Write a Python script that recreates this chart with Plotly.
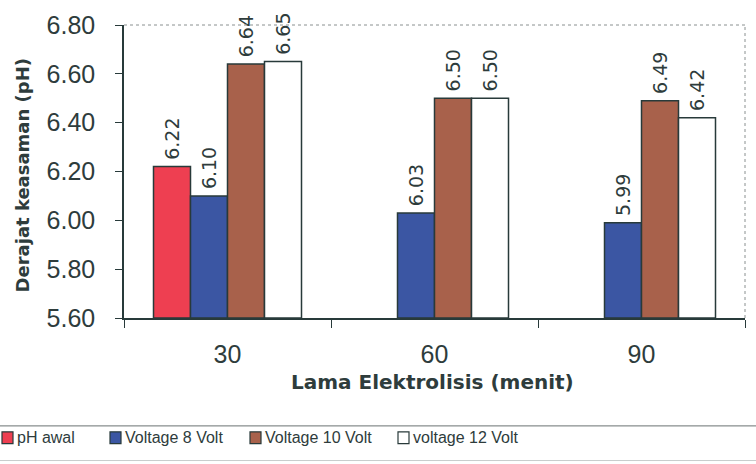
import plotly.graph_objects as go

# ---- data ----
categories = ["30", "60", "90"]
ph_awal = [6.22, None, None]
voltage_8 = [6.10, 6.03, 5.99]
voltage_10 = [6.64, 6.50, 6.49]
voltage_12 = [6.65, 6.50, 6.42]
series_names = ["pH awal", "Voltage 8 Volt", "Voltage 10 Volt", "voltage 12 Volt"]
y_ticks = [5.60, 5.80, 6.00, 6.20, 6.40, 6.60, 6.80]

# ---- styling ----
Y_MIN, Y_MAX = 5.60, 6.80
fills = ["#ee3f51", "#3b56a3", "#a8614b", "#ffffff"]
edge = "#283a3a"
ink = "#2e3c3c"
font_family = "Liberation Sans, Arial, sans-serif"
wide_family = "DejaVu Sans, Verdana, sans-serif"

# plot-area geometry in pixels
W_FIG, H_FIG = 756, 464
L, R, T, B = 124, 745, 22, 318
PW, PH = R - L, B - T


def px_x(px):
    return (px - L) / PW


def px_y(py):
    return (B - py) / PH


fig = go.Figure()

all_series = [ph_awal, voltage_8, voltage_10, voltage_12]
for name, vals, col in zip(series_names, all_series, fills):
    heights = [None if v is None else v - Y_MIN for v in vals]
    # a leading thin space lifts the rotated value label off the bar top
    labels = ["" if v is None else "\u2009" + f"{v:.2f}" for v in vals]
    fig.add_trace(go.Bar(
        x=categories,
        y=heights,
        base=Y_MIN,
        name=name,
        text=labels,
        textposition="outside",
        textangle=-90,
        constraintext="none",
        textfont=dict(family=wide_family, size=19, color=ink),
        marker=dict(color=col, line=dict(color=edge, width=1.5)),
        cliponaxis=False,
        showlegend=False,
    ))

fig.update_layout(
    width=W_FIG,
    height=H_FIG,
    margin=dict(l=L, r=W_FIG - R, t=T, b=H_FIG - B, pad=0),
    paper_bgcolor="white",
    plot_bgcolor="white",
    barmode="group",
    bargap=0.285,
    bargroupgap=0,
    font=dict(family=font_family, color=ink),
)

fig.update_xaxes(
    type="category",
    showgrid=False,
    showline=True,
    linecolor=edge,
    linewidth=1.5,
    ticks="outside",
    tickson="boundaries",
    ticklen=8,
    tickcolor=edge,
    tickfont=dict(family=font_family, size=25, color=ink),
    ticklabelstandoff=13,
)

fig.update_yaxes(
    range=[Y_MIN, Y_MAX],
    tickvals=y_ticks,
    ticktext=[f"{t:.2f}" for t in y_ticks],
    showgrid=False,
    zeroline=False,
    showline=True,
    linecolor=edge,
    linewidth=1.5,
    ticks="outside",
    ticklen=7,
    tickcolor=edge,
    tickfont=dict(family=font_family, size=25, color=ink),
    ticklabelstandoff=15,
)

shapes = []
annotations = []

# dotted frame along top and right
shapes.append(dict(type="line", xref="paper", yref="paper", x0=0, x1=1, y0=1, y1=1,
                   line=dict(color="#8a9090", width=1, dash="dot")))
shapes.append(dict(type="line", xref="paper", yref="paper", x0=1, x1=1, y0=0, y1=1,
                   line=dict(color="#8a9090", width=1, dash="dot")))

# axis titles
annotations.append(dict(
    text="<b>Derajat keasaman (pH)</b>", xref="paper", yref="paper",
    x=px_x(22), y=px_y(174), xanchor="center", yanchor="middle", textangle=-90,
    showarrow=False, font=dict(family=wide_family, size=18, color=ink),
))
annotations.append(dict(
    text="<b>Lama Elektrolisis (menit)</b>", xref="paper", yref="paper",
    x=px_x(432), y=px_y(383), xanchor="center", yanchor="middle",
    showarrow=False, font=dict(family=wide_family, size=20, color=ink),
))

# legend strip at the bottom
shapes.append(dict(type="line", xref="paper", yref="paper",
                   x0=px_x(0), x1=px_x(W_FIG), y0=px_y(427), y1=px_y(427),
                   line=dict(color="#6a7272", width=1)))
shapes.append(dict(type="line", xref="paper", yref="paper",
                   x0=px_x(0), x1=px_x(W_FIG), y0=px_y(462), y1=px_y(462),
                   line=dict(color="#c8cccc", width=1)))

legend_x = [2, 110, 250, 398]
for name, col, lx in zip(series_names, fills, legend_x):
    shapes.append(dict(type="rect", xref="paper", yref="paper",
                       x0=px_x(lx), x1=px_x(lx + 11), y0=px_y(445), y1=px_y(433),
                       fillcolor=col, line=dict(color=edge, width=1.2)))
    annotations.append(dict(
        text=name, xref="paper", yref="paper",
        x=px_x(lx + 13), y=px_y(439), xanchor="left", yanchor="middle",
        showarrow=False, font=dict(family=font_family, size=16, color=ink),
    ))

fig.update_layout(shapes=shapes, annotations=annotations)

fig.write_html("out.html")
